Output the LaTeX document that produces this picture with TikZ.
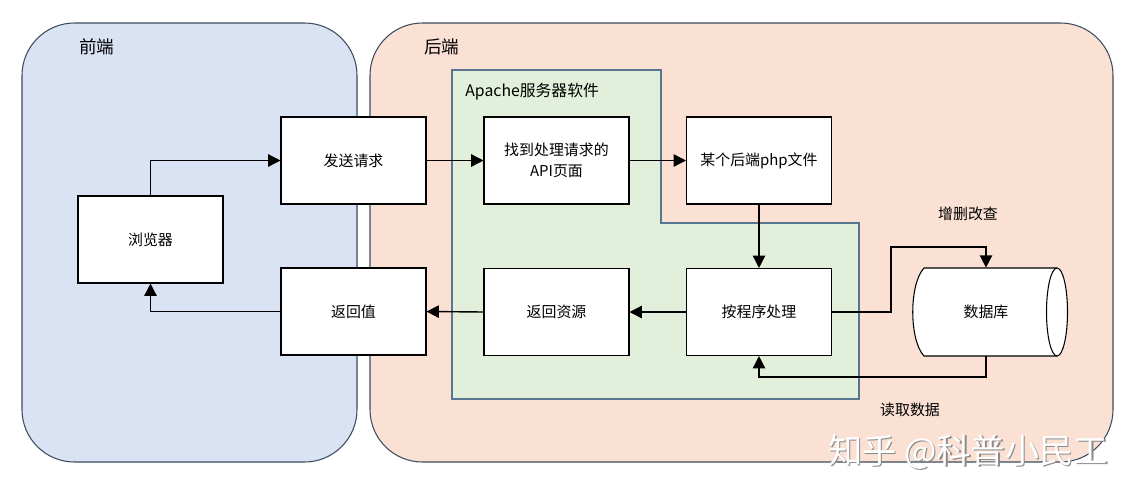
\documentclass[tikz,border=0pt]{standalone}
\usepackage{fontspec}
\setmainfont{Noto Sans CJK SC}
\usetikzlibrary{arrows.meta,calc}
\definecolor{frontfill}{HTML}{DAE3F3}
\definecolor{backfill}{HTML}{FAE1D4}
\definecolor{greenfill}{HTML}{E2EFDA}
\definecolor{panelline}{HTML}{3C4B5E}
\definecolor{greenline}{HTML}{5A7590}
\definecolor{shadowgray}{HTML}{8A8A8A}
\begin{document}
\begin{tikzpicture}[x=0.02cm,y=-0.02cm,
  panel/.style={draw=panelline,line width=0.6pt,rounded corners=1.05cm},
  box/.style={draw=black,fill=white,line width=0.6pt,minimum width=2.9cm,minimum height=1.74cm,inner sep=0pt,align=center,font=\fontsize{8.5}{12}\selectfont},
  conn/.style={line width=0.8pt,-{Triangle[length=7pt,width=7pt]}},
  title/.style={anchor=west,inner sep=0pt},
  lbl/.style={inner sep=0pt,font=\fontsize{8.5}{12}\selectfont}]
\useasboundingbox (0,0) rectangle (1136,498);
\fill[white] (0,0) rectangle (1136,498);
% panels
\draw[panel,fill=frontfill] (22,23) rectangle (357,462);
\draw[panel,fill=backfill] (370,23) rectangle (1113,462);
\node[title,font=\fontsize{10}{12}\selectfont] (tfront) at (79,47) {前端};
\node[title,font=\fontsize{10}{12}\selectfont] (tback) at (424,47) {后端};
% apache region
\draw[draw=greenline,fill=greenfill,line width=0.6pt] (452,70) -- (661,70) -- (661,223) -- (859,223) -- (859,399) -- (452,399) -- cycle;
\node[title,font=\fontsize{9}{12}\selectfont] (tapache) at (465,92) {Apache服务器软件};
% boxes
\node[box] (br) at (150.5,239.5) {浏览器};
\node[box] (send) at (353.5,160.5) {发送请求};
\node[box] (ret) at (353.5,311.5) {返回值};
\node[box] (find) at (556.5,160.5) {找到处理请求的\\API页面};
\node[box] (php) at (759,160.5) {某个后端php文件};
\node[box] (res) at (556.5,312) {返回资源};
\node[box] (proc) at (759,312) {按程序处理};
% database cylinder
\fill[white] (924,268) -- (1057,268) -- (1057,356) -- (924,356) .. controls (909,340) and (909,284) .. (924,268) -- cycle;
\draw[line width=0.6pt] (1057,268) -- (924,268) .. controls (909,284) and (909,340) .. (924,356) -- (1057,356);
\draw[line width=0.6pt,fill=white] (1057,312) ellipse [x radius=10.5,y radius=44];
\node[inner sep=0pt,minimum width=2.9cm,minimum height=1.76cm,font=\fontsize{8.5}{12}\selectfont] (db) at (986,312) {数据库};
% connectors
\coordinate (bend) at (891,247);
\coordinate (rd) at (986,377);
\draw[conn] (br.north) |- (send.west);
\draw[conn] (send.east) -- (find.west);
\draw[conn] (find.east) -- (php.west);
\draw[conn] (php.south) -- (proc.north);
\draw[conn] (proc.west) -- (res.east);
\draw[conn] (res.west) -- (ret.east);
\draw[conn] (ret.west) -| (br.south);
\draw[conn] (proc.east) -| (bend) -| (db.north);
\draw[conn] (db.south) -- (rd) -| (proc.south);
\node[lbl] (lcrud) at (968,214) {增删改查};
\node[lbl] (lread) at (910,410) {读取数据};
% watermark
\node[inner sep=0pt,text=shadowgray,font=\fontsize{19.5}{22}\selectfont] (wms) at (969.5,453.5) {知乎 @科普小民工};
\node[inner sep=0pt,text=white,font=\fontsize{19.5}{22}\selectfont] (wm) at (968,452) {知乎 @科普小民工};
\end{tikzpicture}
\end{document}
